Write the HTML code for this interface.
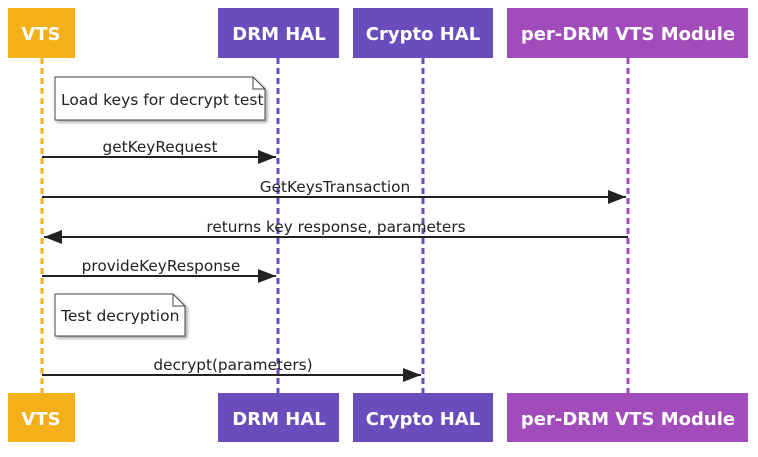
<!DOCTYPE html>
<html><head><style>
body{margin:0;background:#fff;width:758px;height:452px;overflow:hidden}
svg text{font-family:"DejaVu Sans","Liberation Sans",sans-serif}
</style></head><body>
<svg width="758" height="452" xmlns="http://www.w3.org/2000/svg">
<defs>
<marker id="a" markerWidth="18" markerHeight="14" refX="18" refY="7" orient="auto" markerUnits="userSpaceOnUse"><path d="M0,0 L18,7 L0,14 z" fill="#222"/></marker>
<filter id="s"><feDropShadow dx="2" dy="2" stdDeviation="1.5" flood-opacity="0.35"/></filter>
</defs>
<g stroke-width="3" stroke-dasharray="6,4">
<line x1="42" y1="58" x2="42" y2="393" stroke="#f0b020"/>
<line x1="278" y1="58" x2="278" y2="393" stroke="#6a4cc0"/>
<line x1="423" y1="58" x2="423" y2="393" stroke="#6a4cc0"/>
<line x1="628" y1="58" x2="628" y2="393" stroke="#a04cbc"/>
</g>
<g font-size="18" font-weight="bold" fill="#fff" text-anchor="middle">
<rect x="8" y="8" width="67" height="50" fill="#f4b018"/><text x="41" y="40">VTS</text>
<rect x="218" y="8" width="121" height="50" fill="#6a4cbc"/><text x="279" y="40">DRM HAL</text>
<rect x="353" y="8" width="140" height="50" fill="#6a4cbc"/><text x="423" y="40">Crypto HAL</text>
<rect x="507" y="8" width="241" height="50" fill="#a24cbc"/><text x="628" y="40">per-DRM VTS Module</text>
<rect x="8" y="393" width="67" height="49" fill="#f4b018"/><text x="41" y="425">VTS</text>
<rect x="218" y="393" width="121" height="49" fill="#6a4cbc"/><text x="279" y="425">DRM HAL</text>
<rect x="353" y="393" width="140" height="49" fill="#6a4cbc"/><text x="423" y="425">Crypto HAL</text>
<rect x="507" y="393" width="241" height="49" fill="#a24cbc"/><text x="628" y="425">per-DRM VTS Module</text>
</g>
<g filter="url(#s)" fill="#fff" stroke="#444" stroke-width="1">
<path d="M55,77 H253 L265,89 V120 H55 Z"/>
<path d="M55,294 H173 L185,306 V336 H55 Z"/>
</g>
<path d="M253,77 V89 H265 M173,294 V306 H185" fill="none" stroke="#444"/>
<g font-size="15.5" fill="#222">
<text x="61" y="105">Load keys for decrypt test</text>
<text x="61" y="321">Test decryption</text>
</g>
<g stroke="#222" stroke-width="2" marker-end="url(#a)">
<line x1="42" y1="157" x2="276" y2="157"/>
<line x1="42" y1="197" x2="626" y2="197"/>
<line x1="628" y1="237" x2="44" y2="237"/>
<line x1="42" y1="276" x2="276" y2="276"/>
<line x1="42" y1="375" x2="421" y2="375"/>
</g>
<g font-size="15.3" fill="#222" text-anchor="middle">
<text x="160" y="152">getKeyRequest</text>
<text x="335" y="192">GetKeysTransaction</text>
<text x="336" y="232">returns key response, parameters</text>
<text x="161" y="271">provideKeyResponse</text>
<text x="233" y="370">decrypt(parameters)</text>
</g>
</svg>
</body></html>
